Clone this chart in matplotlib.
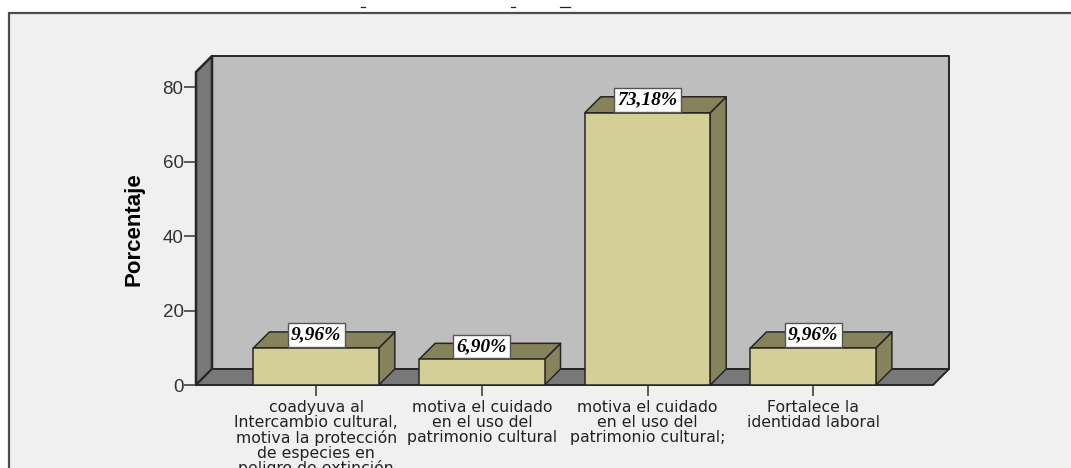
import matplotlib
matplotlib.use("Agg")
import matplotlib.pyplot as plt
from matplotlib.patches import Polygon, Rectangle
from matplotlib.lines import Line2D

categories = [
    "coadyuva al\nIntercambio cultural,\nmotiva la protección\nde especies en\npeligro de extinción",
    "motiva el cuidado\nen el uso del\npatrimonio cultural",
    "motiva el cuidado\nen el uso del\npatrimonio cultural;",
    "Fortalece la\nidentidad laboral",
]
values = [9.96, 6.90, 73.18, 9.96]
value_labels = ["9,96%", "6,90%", "73,18%", "9,96%"]
y_ticks = [0, 20, 40, 60, 80]

W, H = 1071, 468
BAR_W = 0.757
EDGE = "#262626"
FRONT = "#d3cf96"
SHADE = "#86825c"
WALL = "#bebebe"
FLOOR = "#787878"

fig = plt.figure(figsize=(W / 100, H / 100), dpi=100, facecolor="white")

# outer chart frame, runs off the right and bottom of the picture
fig.add_artist(Rectangle((9 / W, -0.05), 1.1, (H - 13) / H + 0.05, transform=fig.transFigure,
                         facecolor="#f0f0f0", edgecolor="#4d4d4d", linewidth=1.6, zorder=-1))
# bottoms of the cropped title letters
for x0, x1 in [(361, 365), (511, 515), (560, 570)]:
    fig.add_artist(Line2D([x0 / W, x1 / W], [(H - 7) / H] * 2, color="#222222", linewidth=0.9))

ax = fig.add_axes([196 / W, (H - 385) / H, 737 / W, 313 / H])
ax.patch.set_visible(False)
ax.set_xlim(-0.725, 3.723)
ax.set_ylim(0, 313 / 3.72)
for s in ax.spines.values():
    s.set_visible(False)

# depth of the 3d effect in data units (16 px both ways)
dx = 16 / 165.7
dy = 16 / 3.72
x0, x1 = ax.get_xlim()
y1 = ax.get_ylim()[1]


def face(pts, color, z, lw=1.1):
    ax.add_patch(Polygon(pts, closed=True, facecolor=color, edgecolor=EDGE, linewidth=lw,
                         joinstyle="round", zorder=z, clip_on=False))


face([(x0 + dx, dy), (x1 + dx, dy), (x1 + dx, y1 + dy), (x0 + dx, y1 + dy)], WALL, 1, 1.4)
face([(x0, 0), (x0 + dx, dy), (x0 + dx, y1 + dy), (x0, y1)], FLOOR, 1.1, 1.8)
face([(x0, 0), (x1, 0), (x1 + dx, dy), (x0 + dx, dy)], FLOOR, 1.1, 1.4)

for i, v in enumerate(values):
    l, r = i - BAR_W / 2, i + BAR_W / 2
    face([(r, 0), (r + dx, dy), (r + dx, v + dy), (r, v)], SHADE, 2 + i)
    face([(l, v), (r, v), (r + dx, v + dy), (l + dx, v + dy)], SHADE, 2 + i)
    face([(l, 0), (r, 0), (r, v), (l, v)], FRONT, 2 + i)
    ax.annotate(value_labels[i], (i, v), xytext=(0, 9.2), textcoords="offset points",
                ha="center", va="center", zorder=10, family="Liberation Serif",
                fontsize=14, fontweight="bold", fontstyle="italic", color="black",
                bbox=dict(boxstyle="square,pad=0.17", facecolor="white",
                          edgecolor="#555555", linewidth=1))

ax.set_yticks(y_ticks)
ax.set_yticklabels([str(t) for t in y_ticks], family="Liberation Sans", fontsize=13.5, color="#333333")
ax.tick_params(axis="y", length=8.5, width=1.1, color="#333333", pad=0.5)
ax.set_xticks(range(len(categories)))
ax.set_xticklabels(categories, family="DejaVu Sans", fontsize=11.3, color="#222222", linespacing=0.98)
ax.tick_params(axis="x", length=8, width=1.1, color="#333333", pad=3)
ax.set_ylabel("Porcentaje", family="Liberation Sans", fontsize=16, fontweight="bold", color="black", labelpad=0)
ax.yaxis.set_label_coords((145 - 196) / 737, (385 - 229) / 313)

fig.savefig("out.png", dpi=100)
